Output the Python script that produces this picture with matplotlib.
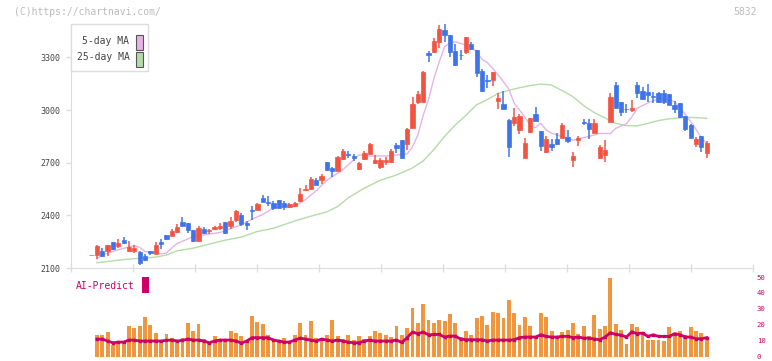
import numpy as np
import matplotlib.pyplot as plt
from matplotlib.patches import Rectangle

# daily candles, oldest first (last one is 4/27)
opens = [2174, 2174, 2194, 2194, 2249, 2227, 2257, 2196, 2196, 2191,
         2170, 2198, 2181, 2246, 2289, 2285, 2306, 2363, 2359, 2314,
         2255, 2320, 2310, 2323, 2327, 2363, 2337, 2371, 2401, 2359,
         2431, 2433, 2498, 2475, 2473, 2486, 2473, 2447, 2452, 2483,
         2543, 2551, 2602, 2602, 2705, 2667, 2655, 2722, 2752, 2738,
         2666, 2719, 2752, 2697, 2678, 2706, 2704, 2799, 2829, 2809,
         2900, 3044, 3048, 3322, 3332, 3385, 3455, 3427, 3336, 3315,
         3332, 3376, 3342, 3222, 3169, 3171, 3053, 3034, 2943, 2924,
         2886, 2727, 2877, 2977, 2881, 2758, 2807, 2835, 2843, 2845,
         2718, 2828, 2934, 2928, 2871, 2729, 2744, 2932, 3142, 3046,
         3008, 3002, 3142, 3108, 3101, 3080, 3095, 3095, 3091, 3031,
         3040, 2964, 2915, 2807, 2852, 2757]
highs = [2176, 2232, 2213, 2230, 2249, 2265, 2278, 2255, 2230, 2194,
         2177, 2198, 2246, 2268, 2289, 2323, 2352, 2392, 2359, 2318,
         2338, 2331, 2323, 2342, 2356, 2363, 2388, 2428, 2412, 2369,
         2454, 2473, 2517, 2513, 2481, 2488, 2479, 2469, 2475, 2555,
         2574, 2619, 2612, 2633, 2705, 2674, 2737, 2777, 2767, 2748,
         2704, 2767, 2811, 2744, 2729, 2731, 2778, 2814, 2829, 2900,
         3074, 3108, 3220, 3338, 3408, 3484, 3489, 3427, 3374, 3342,
         3415, 3385, 3342, 3233, 3199, 3216, 3097, 3106, 2947, 3010,
         2977, 2841, 2955, 3017, 2881, 2850, 2835, 2867, 2924, 2886,
         2761, 2854, 2947, 2947, 2951, 2799, 2830, 3097, 3161, 3046,
         3032, 3057, 3161, 3129, 3148, 3103, 3105, 3114, 3091, 3051,
         3040, 2964, 2921, 2849, 2852, 2826]
lows = [2172, 2153, 2162, 2170, 2204, 2215, 2238, 2189, 2187, 2115,
        2141, 2172, 2177, 2210, 2257, 2280, 2302, 2337, 2302, 2246,
        2251, 2295, 2293, 2318, 2318, 2295, 2325, 2363, 2337, 2318,
        2373, 2428, 2477, 2456, 2428, 2439, 2428, 2441, 2448, 2477,
        2541, 2547, 2570, 2579, 2655, 2621, 2653, 2718, 2725, 2712,
        2661, 2716, 2748, 2691, 2666, 2689, 2699, 2757, 2729, 2773,
        2896, 3033, 3045, 3275, 3323, 3351, 3385, 3304, 3252, 3285,
        3319, 3342, 3190, 3104, 3123, 3139, 3008, 3008, 2733, 2911,
        2864, 2727, 2867, 2938, 2769, 2754, 2769, 2803, 2839, 2814,
        2676, 2797, 2915, 2837, 2867, 2729, 2706, 2932, 3010, 2968,
        2985, 2991, 3070, 3057, 3048, 3038, 3040, 3034, 3029, 2981,
        2953, 2881, 2839, 2792, 2759, 2729]
closes = [2174, 2228, 2168, 2230, 2210, 2244, 2244, 2221, 2215, 2128,
          2147, 2183, 2232, 2236, 2265, 2312, 2335, 2342, 2314, 2255,
          2329, 2302, 2318, 2331, 2340, 2299, 2369, 2426, 2348, 2344,
          2424, 2465, 2477, 2471, 2441, 2443, 2445, 2462, 2471, 2522,
          2549, 2608, 2570, 2625, 2661, 2650, 2733, 2769, 2746, 2725,
          2700, 2755, 2809, 2718, 2714, 2718, 2769, 2784, 2729, 2892,
          3034, 3089, 3216, 3315, 3393, 3461, 3427, 3332, 3256, 3311,
          3415, 3347, 3213, 3108, 3163, 3216, 3068, 3008, 2790, 2962,
          2966, 2812, 2955, 2938, 2795, 2835, 2792, 2807, 2915, 2822,
          2739, 2841, 2924, 2894, 2928, 2790, 2773, 3074, 3013, 2987,
          3004, 3012, 3099, 3063, 3086, 3072, 3048, 3044, 3029, 3008,
          2960, 2892, 2843, 2833, 2792, 2813]

# volume bars and AI-Predict line (from the 2nd candle on)
volume = [13.7, 13.7, 15.6, 7.5, 9.8, 9.8, 19.4, 18.1, 19.4, 25.0,
          20.0, 15.0, 10.6, 14.4, 11.9, 10.6, 11.9, 21.2, 16.2, 20.6,
          11.2, 8.7, 13.1, 10.6, 10.6, 16.2, 15.0, 13.1, 10.6, 25.6,
          21.8, 20.6, 13.7, 11.2, 10.6, 11.9, 8.7, 13.7, 21.2, 13.7,
          22.5, 11.9, 11.2, 13.7, 23.1, 13.1, 11.2, 13.7, 10.6, 13.1,
          11.2, 13.1, 16.2, 15.0, 13.7, 12.5, 19.4, 13.7, 18.1, 30.6,
          21.2, 33.1, 23.1, 21.2, 23.1, 22.5, 26.9, 21.2, 12.5, 16.2,
          13.7, 24.4, 25.6, 20.0, 28.1, 27.5, 24.4, 35.6, 27.5, 20.0,
          25.0, 19.4, 13.1, 27.5, 25.0, 16.2, 13.1, 15.6, 16.9, 21.2,
          14.4, 19.4, 13.1, 26.2, 17.5, 19.4, 49.4, 20.6, 16.9, 8.1,
          20.6, 18.7, 15.0, 10.6, 10.6, 10.6, 10.0, 18.7, 13.7, 16.2,
          13.7, 18.7, 16.2, 15.0, 11.9]
ai_predict = [11.0, 11.0, 9.8, 8.7, 9.1, 9.1, 10.4, 10.4, 9.8, 9.8,
              9.8, 9.8, 9.8, 10.2, 10.4, 9.8, 10.2, 11.0, 10.4, 10.4,
              9.8, 8.7, 9.8, 10.4, 10.4, 10.4, 9.8, 8.5, 9.8, 11.9,
              11.9, 11.9, 11.9, 10.4, 9.8, 9.1, 9.1, 10.4, 11.6, 11.0,
              10.4, 9.8, 11.0, 10.4, 9.8, 10.4, 9.8, 9.1, 8.7, 8.7,
              9.8, 10.4, 9.8, 9.8, 9.8, 9.8, 10.4, 8.9, 11.9, 15.4,
              14.4, 15.4, 13.7, 13.9, 13.9, 12.3, 12.9, 12.9, 11.0, 10.6,
              10.6, 10.6, 10.6, 9.8, 10.4, 10.4, 10.4, 10.4, 10.6, 11.9,
              12.3, 12.3, 12.3, 13.7, 12.7, 12.3, 12.3, 12.7, 12.7, 11.9,
              12.3, 11.6, 11.6, 11.0, 10.6, 12.3, 15.0, 13.9, 13.5, 12.3,
              15.6, 14.4, 14.8, 12.7, 13.7, 12.7, 12.7, 12.7, 14.4, 13.7,
              12.3, 12.3, 11.2, 11.2, 11.9]

# moving averages (candle index, value)
ma5_days = [1, 2, 5, 8, 9, 10, 13, 14, 15, 16, 18, 19, 21, 24, 26, 28, 30, 32, 34, 36,
            38, 40, 42, 44, 46, 47, 49, 50, 52, 55, 57, 59, 60, 61, 62, 63, 64, 65, 66,
            67, 68, 69, 70, 71, 72, 73, 74, 75, 76, 77, 78, 79, 80, 81, 82, 83, 84, 85,
            86, 88, 90, 91, 92, 93, 95, 97, 98, 100, 101, 102, 104, 106, 107, 109, 110,
            111, 112, 113, 114, 115]
ma5 = [2153, 2175, 2204, 2228, 2217, 2194, 2181, 2185, 2215, 2240, 2265, 2280, 2289, 2302,
       2324, 2346, 2378, 2405, 2441, 2451, 2452, 2490, 2540, 2600, 2640, 2660, 2716, 2744,
       2738, 2738, 2744, 2750, 2790, 2858, 2970, 3060, 3180, 3275, 3360, 3383, 3389, 3379,
       3370, 3360, 3330, 3290, 3270, 3237, 3200, 3161, 3120, 3040, 3000, 2960, 2910, 2900,
       2924, 2886, 2868, 2848, 2828, 2835, 2843, 2850, 2866, 2866, 2896, 2922, 2960, 3010,
       3040, 3065, 3068, 3048, 3010, 2975, 2934, 2890, 2840, 2810]
ma25_days = [1, 4, 7, 9, 12, 14, 16, 19, 22, 25, 28, 31, 34, 38, 41, 44, 46, 48, 51, 54,
             57, 60, 62, 64, 66, 68, 70, 72, 74, 76, 78, 80, 82, 84, 86, 88, 90, 92, 94,
             96, 98, 100, 102, 104, 106, 108, 110, 112, 115]
ma25 = [2130, 2141, 2151, 2155, 2162, 2174, 2198, 2213, 2236, 2259, 2276, 2308, 2326, 2368,
        2395, 2420, 2450, 2500, 2555, 2600, 2630, 2670, 2710, 2775, 2850, 2915, 2970, 3030,
        3060, 3095, 3112, 3127, 3139, 3148, 3142, 3110, 3076, 3025, 2985, 2955, 2924, 2911,
        2910, 2924, 2940, 2950, 2955, 2958, 2953]

label_days = [15, 25, 35, 45, 55, 65, 75, 85, 95, 105, 115]
date_labels = ['11/27', '12/11', '12/25', '1/14', '1/28', '2/12',
               '2/27', '3/13', '3/30', '4/13', '4/27']

RED = '#f25442'
BLUE = '#3f74e8'
PINK = '#e6b3e6'
GREEN = '#b5dba8'
ORANGE = '#f0963f'
MAGENTA = '#cc0066'
AXIS = '#dddddd'

plt.rcParams['font.family'] = ['DejaVu Sans Mono']

W, H = 772, 361
fig = plt.figure(figsize=(W / 100, H / 100), dpi=100)


def px_box(x0, y0, x1, y1):
    # pixel box (origin top-left) -> figure rect
    return [x0 / W, 1 - y1 / H, (x1 - x0) / W, (y1 - y0) / H]


ax = fig.add_axes(px_box(70.7, 24, 752.7, 268))
vax = fig.add_axes(px_box(70.7, 277, 752.7, 356.6))

o, h, l, c = map(np.array, (opens, highs, lows, closes))
days = np.arange(len(c))
cols = np.where(c >= o, RED, BLUE)

ax.plot(ma25_days, ma25, color=GREEN, lw=1, zorder=1)
ax.plot(ma5_days, ma5, color=PINK, lw=1, zorder=1)
ax.vlines(days, l, h, colors=cols, linewidth=1.1, zorder=2, clip_on=False)
ax.bar(days, np.abs(c - o), bottom=np.minimum(o, c), width=0.8, color=cols,
       edgecolor=cols, linewidth=0.5, zorder=3, clip_on=False)

xmin, xmax = -3.9, 123.6
ax.set_xlim(xmin, xmax)
ax.set_ylim(2100, 3490)
for s in ['top', 'right']:
    ax.spines[s].set_visible(False)
for s in ['left', 'bottom']:
    ax.spines[s].set_color(AXIS)
ax.set_yticks([2100, 2400, 2700, 3000, 3300])
ax.tick_params(axis='y', direction='out', length=3.6, width=1, color=AXIS,
               labelsize=6, labelcolor='#444444', pad=4)
ax.set_xticks(label_days)
ax.set_xticklabels(date_labels)
ax.tick_params(axis='x', which='major', length=0, labelsize=6,
               labelcolor='#555555', pad=8)
ax.set_xticks(np.linspace(xmin, xmax, 12), minor=True)
ax.tick_params(axis='x', which='minor', direction='inout', length=6,
               width=1, color=AXIS)

# legend box
ax.add_patch(Rectangle((0, 0.807), 0.1138, 0.193, transform=ax.transAxes,
                       facecolor='white', edgecolor=AXIS, lw=1, zorder=5,
                       clip_on=False))
ax.text(0.0862, 0.9316, '5-day MA', transform=ax.transAxes, ha='right',
        va='center', fontsize=7, color='#444444', zorder=6)
ax.text(0.0862, 0.8635, '25-day MA', transform=ax.transAxes, ha='right',
        va='center', fontsize=7, color='#444444', zorder=6)
ax.add_patch(Rectangle((0.0962, 0.8926), 0.0094, 0.0631, transform=ax.transAxes,
                       facecolor=PINK, edgecolor='#555555', lw=0.8, zorder=6,
                       clip_on=False))
ax.add_patch(Rectangle((0.0962, 0.8250), 0.0094, 0.0615, transform=ax.transAxes,
                       facecolor=GREEN, edgecolor='#555555', lw=0.8, zorder=6,
                       clip_on=False))

# volume panel
vax.bar(days[1:], volume, width=0.72, color=ORANGE, zorder=1)
vax.plot(days[1:], ai_predict, color=MAGENTA, lw=2, marker='s', ms=2, zorder=2)
vax.set_xlim(xmin, xmax)
vax.set_ylim(0, 50)
for s in vax.spines.values():
    s.set_visible(False)
vax.set_xticks([])
vax.yaxis.tick_right()
vax.set_yticks(range(0, 51, 10))
vax.tick_params(axis='y', length=0, labelsize=5.2, labelcolor=MAGENTA, pad=3)

fig.text(76 / W, 1 - 286 / H, 'AI-Predict', fontsize=7, color=MAGENTA,
         ha='left', va='center')
fig.patches.append(Rectangle((142.3 / W, 1 - 292.7 / H), 6.4 / W, 15.4 / H,
                             transform=fig.transFigure, facecolor=MAGENTA,
                             edgecolor='none'))

fig.text(14 / W, 1 - 12 / H, '(C)https://chartnavi.com/', fontsize=7,
         color='#bbbbbb', ha='left', va='center')
fig.text(757 / W, 1 - 12 / H, '5832', fontsize=7, color='#bbbbbb',
         ha='right', va='center')

fig.savefig('out.png', dpi=100)
